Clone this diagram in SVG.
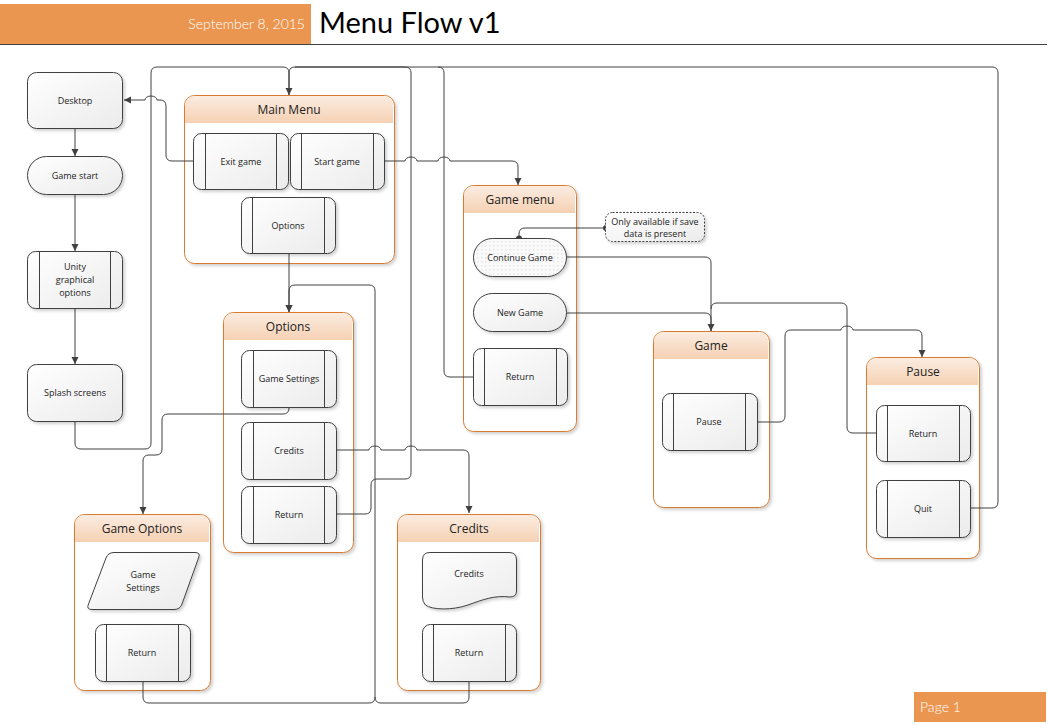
<svg xmlns="http://www.w3.org/2000/svg" width="1049" height="723" viewBox="0 0 1049 723">
<style>
.node{fill:url(#ng);stroke:#404040;stroke-width:1;filter:url(#sh)}
.in{stroke:#404040;stroke-width:1;fill:none}
.t{font-family:"Open Sans","Liberation Sans",sans-serif;font-size:9px;fill:#222;text-anchor:middle;dominant-baseline:central}
.ct{font-family:"Open Sans","Liberation Sans",sans-serif;font-size:12px;fill:#222;text-anchor:middle;dominant-baseline:central}
.cbox{fill:#fff;stroke:#d97a2e;stroke-width:1;filter:url(#sh)}
.chead{fill:url(#hg)}
.con path{fill:none;stroke:#404040;stroke-width:1}
</style>
<defs>
<linearGradient id="ng" x1="0" y1="0" x2="1" y2="1"><stop offset="0" stop-color="#ffffff"/><stop offset="1" stop-color="#ebebeb"/></linearGradient>
<linearGradient id="hg" x1="0" y1="0" x2="0" y2="1"><stop offset="0" stop-color="#fbece1"/><stop offset="1" stop-color="#f5d1b3"/></linearGradient>
<pattern id="dots" width="4" height="4" patternUnits="userSpaceOnUse"><rect width="4" height="4" fill="#fafafa"/><rect x="1.5" y="1.5" width="0.8" height="0.8" fill="#b0b0b0"/></pattern>
<filter id="sh" x="-10%" y="-10%" width="130%" height="130%"><feDropShadow dx="2" dy="2" stdDeviation="1.5" flood-color="#000" flood-opacity="0.18"/></filter>
<marker id="ar" markerUnits="userSpaceOnUse" markerWidth="8" markerHeight="8" refX="7" refY="3.5" orient="auto"><path d="M0,0 L7,3.5 L0,7 Z" fill="#404040"/></marker>
</defs>
<rect width="1049" height="723" fill="#fff"/>
<g id="header">
<rect x="0" y="4" width="311" height="40" fill="#eb9650"/>
<line x1="0" y1="44.5" x2="1047" y2="44.5" stroke="#404040" stroke-width="1"/>
<text x="305" y="29" font-family="Lato,'Liberation Sans',sans-serif" font-size="14" font-weight="300" fill="#fff" text-anchor="end">September 8, 2015</text>
<text x="319" y="33" font-family="Lato,'Liberation Sans',sans-serif" font-size="29" fill="#000">Menu Flow v1</text>
</g>
<g id="page">
<rect x="914" y="692" width="132" height="30" fill="#eb9650"/>
<text x="920" y="712" font-family="Lato,'Liberation Sans',sans-serif" font-size="14" font-weight="300" fill="#fff">Page 1</text>
</g>

<g id="c-mainmenu"><rect class="cbox" x="184.5" y="95.5" width="210" height="168" rx="10"/><path class="chead" d="M185,123 V105.5 A9.5,9.5 0 0 1 194.5,96 H384.5 A9,9 0 0 1 393,105 V123 Z"/><text class="ct" x="289" y="109">Main Menu</text></g>
<g id="c-gamemenu"><rect class="cbox" x="463.5" y="185.5" width="113" height="246" rx="10"/><path class="chead" d="M464,213 V195.5 A9.5,9.5 0 0 1 473.5,186 H566.5 A9,9 0 0 1 575,195 V213 Z"/><text class="ct" x="520" y="199">Game menu</text></g>
<g id="c-options"><rect class="cbox" x="223.5" y="312.5" width="130" height="240" rx="10"/><path class="chead" d="M224,340 V322.5 A9.5,9.5 0 0 1 233.5,313 H343.5 A9,9 0 0 1 352,322 V340 Z"/><text class="ct" x="288" y="326">Options</text></g>
<g id="c-game"><rect class="cbox" x="653.5" y="331.5" width="116" height="176" rx="10"/><path class="chead" d="M654,359 V341.5 A9.5,9.5 0 0 1 663.5,332 H759.5 A9,9 0 0 1 768,341 V359 Z"/><text class="ct" x="711" y="345">Game</text></g>
<g id="c-pause"><rect class="cbox" x="866.5" y="357.5" width="113" height="201" rx="10"/><path class="chead" d="M867,385 V367.5 A9.5,9.5 0 0 1 876.5,358 H969.5 A9,9 0 0 1 978,367 V385 Z"/><text class="ct" x="923" y="371">Pause</text></g>
<g id="c-gameoptions"><rect class="cbox" x="74.5" y="514.5" width="136" height="176" rx="10"/><path class="chead" d="M75,542 V524.5 A9.5,9.5 0 0 1 84.5,515 H200.5 A9,9 0 0 1 209,524 V542 Z"/><text class="ct" x="142" y="528">Game Options</text></g>
<g id="c-credits"><rect class="cbox" x="397.5" y="514.5" width="143" height="176" rx="10"/><path class="chead" d="M398,542 V524.5 A9.5,9.5 0 0 1 407.5,515 H530.5 A9,9 0 0 1 539,524 V542 Z"/><text class="ct" x="469" y="528">Credits</text></g>

<g class="con" id="connectors">
<path d="M75,129 V156" marker-end="url(#ar)"/>
<path d="M75,195 V251" marker-end="url(#ar)"/>
<path d="M75,308 V364" marker-end="url(#ar)"/>
<path d="M75,421 V443 Q75,449 81,449 H145 Q151,449 151,443 V73 Q151,67 157,67 H283 Q289,67 289,73 V95" marker-end="url(#ar)"/>
<path d="M970,508 H992 Q998,508 998,502 V73 Q998,67 992,67 H295 Q289,67 289,73 V95"/>
<path d="M337,514 H365 Q371,514 371,508 V485 Q371,479 377,479 H405 Q411,479 411,473 V73 Q411,67 405,67 H295"/>
<path d="M473,377 H450 Q444,377 444,371 V73 Q444,67 438,67"/>
<path d="M193,161 H172 Q166,161 166,155 V106 Q166,100 160,100 H157 A6,4 0 0 0 145,100 H124" marker-end="url(#ar)"/>
<path d="M385,161 H405 A6,4 0 0 1 417,161 H438 A6,4 0 0 1 450,161 H512 Q518,161 518,167 V185" marker-end="url(#ar)"/>
<path d="M289,253 V312" marker-end="url(#ar)"/>
<path d="M143,681 V697 Q143,703 149,703 H369 Q375,703 375,697 V291 Q375,285 369,285 H295 Q289,285 289,291 V312" marker-end="url(#ar)"/>
<path d="M469,681 V697 Q469,703 463,703 H381 Q375,703 375,697"/>
<path d="M289,407 V408 Q289,414 283,414 H168 Q162,414 162,420 V449 Q162,455 156,455 H149 Q143,455 143,461 V514" marker-end="url(#ar)"/>
<path d="M337,450 H369 A6,4 0 0 1 381,450 H405 A6,4 0 0 1 417,450 H463 Q469,450 469,456 V513" marker-end="url(#ar)"/>
<path d="M567,257 H705 Q711,257 711,263 V331" marker-end="url(#ar)"/>
<path d="M567,313 H705 Q711,313 711,319 V331"/>
<path d="M876,433 H853 Q847,433 847,427 V309 Q847,303 841,303 H717 Q711,303 711,309"/>
<path d="M757,422 H779 Q785,422 785,416 V336 Q785,330 791,330 H841 A6,4 0 0 1 853,330 H916 Q922,330 922,336 V357" marker-end="url(#ar)"/>
<path d="M606,228 H525 Q519,228 519,234 V238"/>
<circle cx="606" cy="228" r="3" fill="#404040"/>
<circle cx="519" cy="238.5" r="3" fill="#404040"/>
</g>

<g id="n-desktop"><rect class="node" x="27.5" y="72.5" width="95" height="56" rx="9"/><text class="t" x="75" y="100">Desktop</text></g>
<g id="n-gamestart"><rect class="node" x="27.5" y="156.5" width="95" height="38" rx="19"/><text class="t" x="75" y="175">Game start</text></g>
<g id="n-unity"><rect class="node" x="27.5" y="251.5" width="95" height="57" rx="8"/><path class="in" d="M39.5,251.5 V308.5 M110.5,251.5 V308.5"/><text class="t" x="75" y="266">Unity</text><text class="t" x="75" y="279">graphical</text><text class="t" x="75" y="292">options</text></g>
<g id="n-splash"><rect class="node" x="27.5" y="364.5" width="95" height="57" rx="9"/><text class="t" x="75" y="392">Splash screens</text></g>

<g id="n-exitgame"><rect class="node" x="193.5" y="133.5" width="95" height="56" rx="8"/><path class="in" d="M205.5,133.5 V189.5 M276.5,133.5 V189.5"/><text class="t" x="241" y="161">Exit game</text></g>
<g id="n-startgame"><rect class="node" x="290.5" y="133.5" width="94" height="56" rx="8"/><path class="in" d="M301.5,133.5 V189.5 M373.5,133.5 V189.5"/><text class="t" x="337" y="161">Start game</text></g>
<g id="n-mm-options"><rect class="node" x="241.5" y="197.5" width="94" height="56" rx="8"/><path class="in" d="M252.5,197.5 V253.5 M324.5,197.5 V253.5"/><text class="t" x="288" y="225">Options</text></g>

<g id="n-gamesettings"><rect class="node" x="241.5" y="350.5" width="95" height="57" rx="8"/><path class="in" d="M253.5,350.5 V407.5 M324.5,350.5 V407.5"/><text class="t" x="289" y="378">Game Settings</text></g>
<g id="n-opt-credits"><rect class="node" x="241.5" y="422.5" width="95" height="57" rx="8"/><path class="in" d="M253.5,422.5 V479.5 M324.5,422.5 V479.5"/><text class="t" x="289" y="450">Credits</text></g>
<g id="n-opt-return"><rect class="node" x="241.5" y="486.5" width="95" height="57" rx="8"/><path class="in" d="M253.5,486.5 V543.5 M324.5,486.5 V543.5"/><text class="t" x="289" y="514">Return</text></g>

<g id="n-continue"><rect x="473.5" y="238.5" width="93" height="38" rx="19" fill="url(#dots)" stroke="#404040" stroke-width="1" filter="url(#sh)"/><text class="t" x="520" y="257">Continue Game</text></g>
<g id="n-newgame"><rect class="node" x="473.5" y="293.5" width="93" height="38" rx="19"/><text class="t" x="520" y="312">New Game</text></g>
<g id="n-gm-return"><rect class="node" x="473.5" y="348.5" width="94" height="57" rx="8"/><path class="in" d="M484.5,348.5 V405.5 M556.5,348.5 V405.5"/><text class="t" x="520" y="376">Return</text></g>
<g id="n-note"><rect x="605.5" y="212.5" width="99" height="29" rx="7" fill="url(#ng)" stroke="#404040" stroke-width="1" stroke-dasharray="2,1.5" filter="url(#sh)"/><text class="t" x="655" y="221">Only available if save</text><text class="t" x="655" y="233">data is present</text></g>

<g id="n-pause"><rect class="node" x="662.5" y="393.5" width="95" height="57" rx="8"/><path class="in" d="M673.5,393.5 V450.5 M745.5,393.5 V450.5"/><text class="t" x="709" y="421">Pause</text></g>
<g id="n-p-return"><rect class="node" x="876.5" y="405.5" width="94" height="56" rx="8"/><path class="in" d="M887.5,405.5 V461.5 M959.5,405.5 V461.5"/><text class="t" x="923" y="433">Return</text></g>
<g id="n-quit"><rect class="node" x="876.5" y="480.5" width="94" height="57" rx="8"/><path class="in" d="M887.5,480.5 V537.5 M959.5,480.5 V537.5"/><text class="t" x="923" y="508">Quit</text></g>

<g id="n-go-settings"><path class="node" d="M114,552.5 H195 Q201,552.5 198.5,558 L182,604 Q180,609.5 174,609.5 H92 Q86,609.5 88.5,604 L106,558 Q108,552.5 114,552.5 Z"/><text class="t" x="143" y="574">Game</text><text class="t" x="143" y="587">Settings</text></g>
<g id="n-go-return"><rect class="node" x="95.5" y="624.5" width="95" height="57" rx="8"/><path class="in" d="M106.5,624.5 V681.5 M178.5,624.5 V681.5"/><text class="t" x="142" y="652">Return</text></g>

<g id="n-cr-credits"><path class="node" d="M430,552.5 H509 Q516.5,552.5 516.5,560 V591 Q516.5,597 510,597 C494,595 482,600 468,605 C452,610.5 432,610 425.5,605 Q422.5,602 422.5,597 V560 Q422.5,552.5 430,552.5 Z"/><text class="t" x="469" y="573">Credits</text></g>
<g id="n-cr-return"><rect class="node" x="422.5" y="624.5" width="94" height="57" rx="8"/><path class="in" d="M433.5,624.5 V681.5 M505.5,624.5 V681.5"/><text class="t" x="469" y="652">Return</text></g>
</svg>
